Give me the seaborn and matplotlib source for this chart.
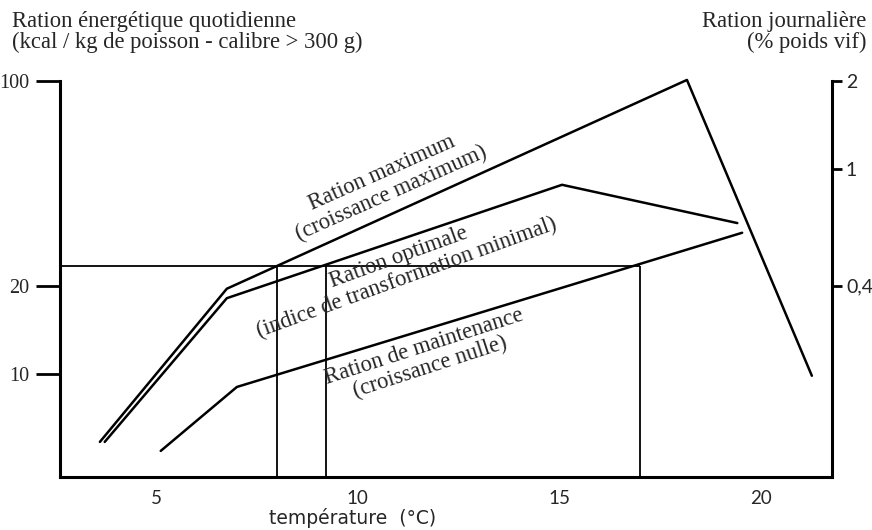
import numpy as np
import matplotlib
matplotlib.use("Agg")
import matplotlib.pyplot as plt
import seaborn as sns
from matplotlib.ticker import FixedLocator, FixedFormatter, NullLocator

# courbes de ration (temperature en degC, ration en kcal / kg de poisson)
temp_max = [3.60, 6.75, 18.17, 21.27]
ration_max = [5.84, 19.5, 100.9, 9.83]

temp_opt = [3.72, 6.75, 15.07, 19.42]
ration_opt = [5.84, 18.1, 44.2, 32.7]

temp_maint = [5.11, 7.0, 19.54]
ration_maint = [5.44, 9.0, 30.3]

# niveau de ration de reference et temperatures correspondantes
ration_ref = 23.3
temp_ref = [8.0, 9.2, 17.0]

left_ticks = [10, 20, 100]
left_labels = ["10", "20", "100"]
right_ticks = [0.4, 1, 2]
right_labels = ["0,4", "1", "2"]
x_ticks = [5, 10, 15, 20]
kcal_per_pct = 50  # 1 % poids vif = 50 kcal/kg

sns.set_theme(style="white")
plt.rcParams['font.family'] = ['Liberation Serif', 'DejaVu Serif']

xlim = (2.61, 21.77)
ylim = (4.43, 104.9)

fig = plt.figure(figsize=(8.72, 5.30), dpi=100)
ax = fig.add_axes([60/872, 53/530, 772/872, 402/530])
ax.set_yscale('log')

for tx, ry in [(temp_max, ration_max), (temp_opt, ration_opt), (temp_maint, ration_maint)]:
    sns.lineplot(x=tx, y=ry, sort=False, estimator=None, color='black', lw=1.8, ax=ax)

ax.hlines(ration_ref, xlim[0], temp_ref[-1], color='black', lw=1.3)
ax.vlines(temp_ref, ylim[0], ration_ref, color='black', lw=1.3)

ax.set_xlim(*xlim)
ax.set_ylim(*ylim)

ax.yaxis.set_major_locator(FixedLocator(left_ticks))
ax.yaxis.set_major_formatter(FixedFormatter(left_labels))
ax.yaxis.set_minor_locator(NullLocator())
ax.set_xticks(x_ticks)
ax.set_xticklabels([str(t) for t in x_ticks], family=['Lato', 'DejaVu Sans'], fontsize=13.5)
ax.tick_params(axis='x', length=0, pad=9)
ax.tick_params(axis='y', which='major', length=17, width=2, direction='out',
               pad=5, labelsize=14.5, left=True, color='black')

for s in ['top', 'right']:
    ax.spines[s].set_visible(False)
for s in ['left', 'bottom']:
    ax.spines[s].set_color('black')
    ax.spines[s].set_linewidth(2.2)
ax.spines['left'].set_bounds(ylim[0], 100)

ax2 = ax.twinx()
ax2.set_yscale('log')
ax2.set_ylim(ylim[0]/kcal_per_pct, ylim[1]/kcal_per_pct)
ax2.yaxis.set_major_locator(FixedLocator(right_ticks))
ax2.yaxis.set_major_formatter(FixedFormatter(right_labels))
ax2.yaxis.set_minor_locator(NullLocator())
ax2.tick_params(axis='y', which='major', length=7, width=2, direction='out',
                pad=3, labelsize=14, right=True, color='black')
for lab in ax2.get_yticklabels():
    lab.set_family(['Lato', 'DejaVu Sans'])
for s in ['top', 'left', 'bottom']:
    ax2.spines[s].set_visible(False)
ax2.spines['right'].set_color('black')
ax2.spines['right'].set_linewidth(2.2)
ax2.spines['right'].set_bounds(ylim[0]/kcal_per_pct, 2)
ax2.grid(False)
ax.grid(False)

ax.set_xlabel("température  (°C)", family=['DejaVu Sans'], fontsize=13.5, va='top')
ax.xaxis.set_label_coords(0.3795, -0.077)

fs = 16.3
fig.text(12/872, 1 - 27/530, "Ration énergétique quotidienne", fontsize=fs, va='baseline')
fig.text(12/872, 1 - 48/530, "(kcal / kg de poisson - calibre > 300 g)", fontsize=fs, va='baseline')
fig.text(866/872, 1 - 27/530, "Ration journalière", fontsize=fs, va='baseline', ha='right')
fig.text(866/872, 1 - 48/530, "(% poids vif)", fontsize=fs, va='baseline', ha='right')

kw = dict(fontsize=fs, ha='center', va='center', multialignment='center',
          rotation_mode='anchor', linespacing=1.05)
ax.text(10.72, 44.8, "Ration maximum\n(croissance maximum)", rotation=24, **kw)
ax.text(11.12, 23.0, "Ration optimale\n(indice de transformation minimal)", rotation=20, **kw)
ax.text(11.72, 11.4, "Ration de maintenance\n(croissance nulle)", rotation=18, **kw)

fig.savefig("out.png", dpi=100, facecolor='white')
